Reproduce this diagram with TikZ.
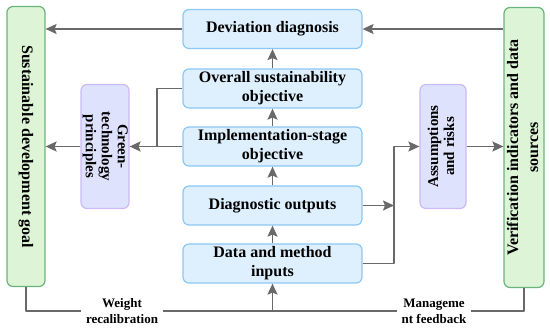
\documentclass[tikz,border=0pt]{standalone}
\usepackage{fontspec}
\setmainfont{Liberation Serif}
\usepackage{graphicx}
\usepackage{tikz}
\usetikzlibrary{arrows.meta}
\definecolor{stageblue}{RGB}{222,240,253}
\definecolor{stageline}{RGB}{140,200,245}
\definecolor{goalgreen}{RGB}{221,245,214}
\definecolor{goalline}{RGB}{105,180,125}
\definecolor{notelilac}{RGB}{222,226,252}
\definecolor{noteline}{RGB}{205,185,245}
\definecolor{flowgray}{RGB}{105,105,105}

\begin{document}
\begin{tikzpicture}[x=1pt, y=-1pt, line join=round,
  stagebox/.style={draw=stageline, fill=stageblue, line width=1.2pt,
    rounded corners=6pt, minimum width=179pt, minimum height=39pt,
    align=center, inner sep=2pt, font=\bfseries\fontsize{16}{19}\selectfont},
  sidebox/.style={draw=goalline, fill=goalgreen, line width=1.2pt,
    rounded corners=6pt, minimum width=38pt, minimum height=280pt,
    inner sep=0pt, font=\bfseries\fontsize{16}{20}\selectfont},
  notebox/.style={draw=noteline, fill=notelilac, line width=1.2pt,
    rounded corners=6pt, minimum width=46pt, minimum height=124pt,
    inner sep=0pt, font=\bfseries\fontsize{15}{16}\selectfont},
  flow/.style={draw=flowgray, line width=1.7pt},
  flowarrow/.style={flow, -{Stealth[length=11pt,width=10pt,inset=2pt]}},
  feedlabel/.style={fill=white, inner xsep=5pt, inner ysep=1pt, align=center,
    font=\bfseries\fontsize{13}{16}\selectfont}]
  \useasboundingbox (0,0) rectangle (550,329);

  % Outer columns: goal on the left, verification on the right.
  \node[sidebox] (goal) at (26,146.5)
    {\rotatebox{-90}{Sustainable development goal}};
  \node[sidebox] (verify) at (524,147.5)
    {\rotatebox{90}{\begin{tabular}{@{}c@{}}Verification indicators and data\\
      sources\end{tabular}}};

  % Central chain of stages.
  \node[stagebox] (deviation) at (272.5,29) {Deviation diagnosis};
  \node[stagebox] (overall) at (272.5,88.5) {Overall sustainability\\objective};
  \node[stagebox] (stage) at (272.5,146.5) {Implementation-stage\\objective};
  \node[stagebox] (outputs) at (272.5,205.5) {Diagnostic outputs};
  \node[stagebox] (inputs) at (272.5,263.5) {Data and method\\inputs};

  % Side notes.
  \node[notebox] (green) at (105,146.5)
    {\rotatebox{-90}{\begin{tabular}{@{}c@{}}Green-\\technology\\
      principles\end{tabular}}};
  \node[notebox] (risks) at (443,146.5)
    {\rotatebox{90}{\begin{tabular}{@{}c@{}}Assumptions\\and risks\end{tabular}}};

  \draw[flowarrow] (deviation.west) -- (deviation.west -| goal.east);
  \draw[flowarrow] (deviation.east -| verify.west) -- (deviation.east);
  \foreach \lower/\upper in {inputs/outputs,outputs/stage,stage/overall,
    overall/deviation}
    \draw[flowarrow] (\lower.north) -- (\upper.south);

  % Left merge of the two objectives.
  \coordinate (mergeL) at (157,146.5);
  \draw[flow] (overall.west) -| (mergeL);
  \draw[flowarrow] (stage.west) -- (green.east);
  \draw[flowarrow] (green.west) -- (green.west -| goal.east);

  % Right merge of outputs and inputs.
  \coordinate (mergeR) at (394,146.5);
  \draw[flowarrow] (outputs.east) -- (outputs.east -| mergeR);
  \draw[flowarrow] (inputs.east) -| (mergeR) -- (risks.west);
  \draw[flowarrow] (risks.east) -- (risks.east -| verify.west);

  % Feedback loop along the bottom.
  \coordinate (loop) at (272.5,311);
  \draw[flow] (goal.south) |- (loop);
  \draw[flow] (verify.south) |- (loop);
  \draw[flowarrow] (loop) -- (inputs.south);
  \node[feedlabel] (weight) at (122,311) {Weight\\recalibration};
  \node[feedlabel] (manage) at (434,311) {Manageme\\nt feedback};
\end{tikzpicture}
\end{document}
